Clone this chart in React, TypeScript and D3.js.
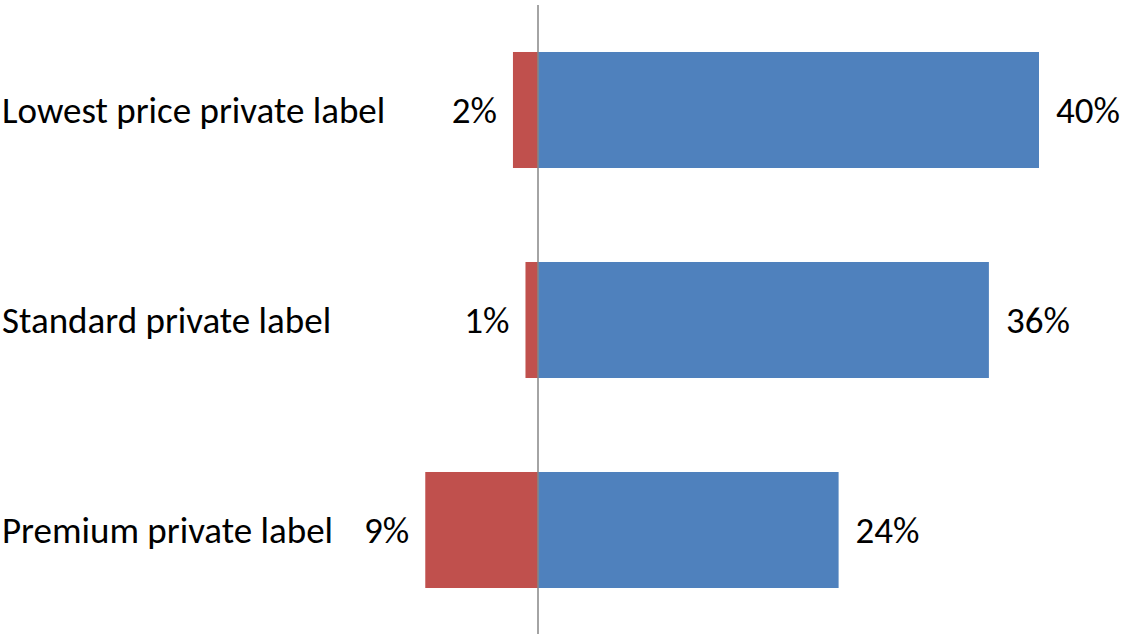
import React from "react";
import * as d3 from "d3";

const categories = ["Lowest price private label", "Standard private label", "Premium private label"];
const positiveValues = [40, 36, 24];
const negativeValues = [2, 1, 9];

const W = 1124;
const H = 634;
const FONT = "Carlito, Calibri, Lato, 'Open Sans', sans-serif";
const FS = 37;

export default function App() {
  const x = d3.scaleLinear().domain([0, 40]).range([538, 1039]);
  const y = d3.scaleBand<string>().domain(categories).range([5, 635]).paddingInner(0.4476).paddingOuter(0.2238);
  const bw = y.bandwidth();
  return (
    <div style={{ position: "absolute", left: 0, top: 0 }}>
      <svg width={W} height={H} style={{ display: "block" }}>
        <rect x={0} y={0} width={W} height={H} fill="#ffffff" />
        {categories.map((c, i) => {
          const y0 = y(c)!;
          const cy = y0 + bw / 2;
          const pos = positiveValues[i];
          const neg = negativeValues[i];
          return (
            <g key={c}>
              <rect x={x(0)} y={y0} width={x(pos) - x(0)} height={bw} fill="#4F81BD" />
              <rect x={x(-neg)} y={y0} width={x(0) - x(-neg)} height={bw} fill="#C0504D" />
              <text x={2} y={cy} dy="0.34em" fontFamily={FONT} fontSize={FS} fill="#000">{c}</text>
              <text x={x(-neg) - 16} y={cy} dy="0.34em" textAnchor="end" fontFamily={FONT} fontSize={FS} fill="#000">{neg}%</text>
              <text x={x(pos) + 17} y={cy} dy="0.34em" fontFamily={FONT} fontSize={FS} fill="#000">{pos}%</text>
            </g>
          );
        })}
        <line x1={x(0)} x2={x(0)} y1={5} y2={H} stroke="#868686" strokeWidth={1.5} />
      </svg>
    </div>
  );
}
